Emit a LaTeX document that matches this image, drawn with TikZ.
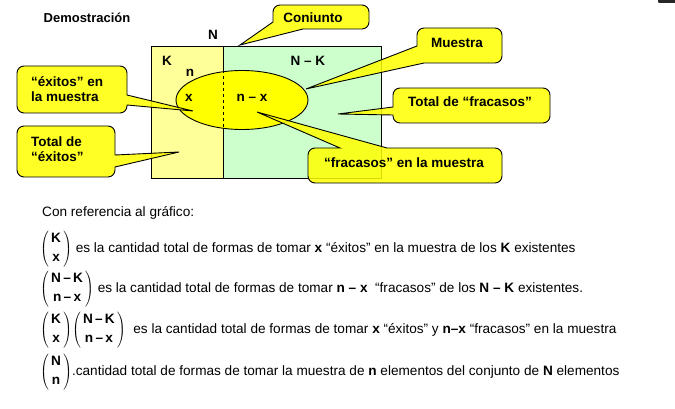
\documentclass[tikz,border=0pt]{standalone}
\usepackage{fontspec}
\setmainfont{Liberation Sans}
\usetikzlibrary{shapes.geometric}
\definecolor{ltyellow}{HTML}{FFFF99}
\definecolor{ltgreen}{HTML}{CCFFCC}
\definecolor{cyellow}{HTML}{FFFF00}
\newcommand\bino[2]{$\left(\vcenter{\hbox{\begin{tabular}{@{\,}c@{\,}}\textbf{#1}\\[4pt]\textbf{#2}\end{tabular}}}\right)$}
\tikzset{
  callout/.style={draw=black, line width=0.9pt, fill=cyellow, fill opacity=0.85},
  ctext/.style={font=\fontsize{13.5}{15.5}\selectfont\bfseries, inner sep=0pt},
  btext/.style={font=\fontsize{13.6}{15.5}\selectfont, inner sep=0pt, anchor=west},
  lbl/.style={font=\fontsize{13.5}{15.5}\selectfont\bfseries, inner sep=0pt}
}
\begin{document}
\begin{tikzpicture}[x=1pt,y=-1pt]
\useasboundingbox (0,0) rectangle (675,409);
\fill[black!85, rounded corners=1pt] (658,-3) rectangle (676,3);

% title
\node[lbl, font=\fontsize{13}{15}\selectfont\bfseries] (title) at (87,18) {Demostración};
\node[lbl] (N) at (213,35) {N};

% sets
\fill[ltyellow] (151,46) rectangle (223,178);
\fill[ltgreen] (223,46) rectangle (381,178);
\draw[line width=0.9pt] (151,46) rectangle (381,178);
\draw[line width=0.9pt] (223,46) -- (223,178);
\node[lbl] (K) at (167,61) {K};
\node[lbl] (NK) at (308,61) {N – K};
\node[lbl] (n) at (190,73) {n};
\node[draw=black, line width=0.9pt, fill=cyellow, ellipse, minimum width=132pt, minimum height=59pt, inner sep=0pt] (ell) at (242,100) {};
\draw[dashed, line width=0.8pt] (ell.north -| 223,0) -- (ell.south -| 223,0);
\node[lbl] (x) at (189,98) {x};
\node[lbl] (nx) at (252,98) {n – x};

% callouts
\draw[callout] (320,5) [rounded corners=7pt] -- (369,5) -- (369,29) [sharp corners] -- (303,29) -- (240,45) -- (273,22) [rounded corners=7pt] -- (273,5) -- cycle;
\node[ctext] (c1) at (313,18) {Coniunto};

\draw[callout] (460,28) [rounded corners=7pt] -- (502,28) -- (502,63) [sharp corners] -- (424,63) -- (306,89) -- (417,46) [rounded corners=7pt] -- (417,28) -- cycle;
\node[ctext] (c2) at (457,43) {Muestra};

\draw[callout] (470,88) [rounded corners=7pt] -- (550,88) -- (550,123) -- (393,123) [sharp corners] -- (393,115) -- (338,114) -- (393,107) [rounded corners=7pt] -- (393,88) -- cycle;
\node[ctext] (c3) at (470,102) {Total de “fracasos”};

\draw[callout] (400,183) [rounded corners=7pt] -- (308,183) -- (308,148) [sharp corners] -- (340,148) -- (257,112) -- (387,148) [rounded corners=7pt] -- (502,148) -- (502,183) -- cycle;
\node[ctext] (c4) at (404,163) {“fracasos” en la muestra};

\draw[callout] (70,66) [rounded corners=7pt] -- (127,66) [sharp corners] -- (127,95) -- (193,111) -- (127,105) [rounded corners=7pt] -- (127,113) -- (17,113) -- (17,66) -- cycle;
\node[ctext, align=left, anchor=west] (c5) at (31,89) {“éxitos” en\\la muestra};

\draw[callout] (60,126) [rounded corners=7pt] -- (115,126) [sharp corners] -- (115,155) -- (179,152) -- (115,167) [rounded corners=7pt] -- (115,177) -- (17,177) -- (17,126) -- cycle;
\node[ctext, align=left, anchor=west] (c6) at (31,149) {Total de\\“éxitos”};

% text
\node[btext] (ref) at (42,213) {Con referencia al gráfico:};
\node[btext] (r1) at (40,249) {\bino{K}{x} es la cantidad total de formas de tomar \textbf{x} “éxitos” en la muestra de los \textbf{K} existentes};
\node[btext] (r2) at (40,289) {\bino{N\,–\,K}{n\,–\,x}\ es la cantidad total de formas de tomar \textbf{n – x}\ \ “fracasos” de los \textbf{N – K} existentes.};
\node[btext] (r3) at (40,330) {\bino{K}{x}\bino{N\,–\,K}{n\,–\,x}\ \ es la cantidad total de formas de tomar \textbf{x} “éxitos” y \textbf{n–x} “fracasos” en la muestra};
\node[btext] (r4) at (40,372) {\bino{N}{n}.cantidad total de formas de tomar la muestra de \textbf{n} elementos del conjunto de \textbf{N} elementos};
\end{tikzpicture}
\end{document}
